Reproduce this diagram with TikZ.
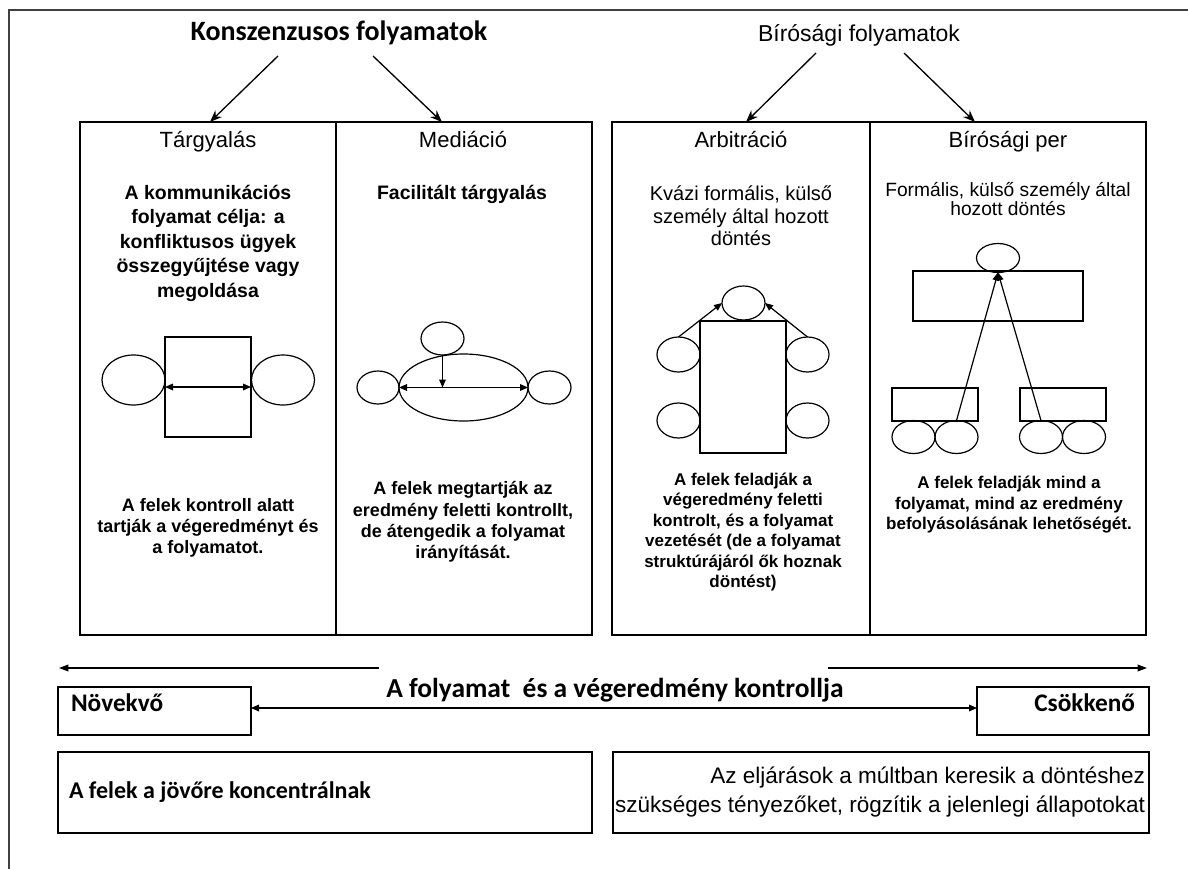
\documentclass[tikz,border=0pt]{standalone}
\usepackage{fontspec}
\setmainfont{Liberation Sans}
\newfontfamily\calfont{Carlito}
\usetikzlibrary{arrows.meta,shapes.geometric}
\newcommand\fsz[2]{\fontsize{#1}{#2}\selectfont}

\begin{document}
\begin{tikzpicture}[x=0.75pt,y=-0.75pt,
  every node/.style={inner sep=0pt, outer sep=0pt},
  oval/.style={draw, ellipse, line width=0.9pt},
  box/.style={draw, rectangle, line width=0.9pt},
  arr/.style={line width=0.9pt, -{Triangle[length=6pt,width=5pt]}},
  darr/.style={line width=0.9pt, {Triangle[length=6pt,width=5pt]}-{Triangle[length=6pt,width=5pt]}},
  toparr/.style={line width=1pt, -{Stealth[length=9pt,width=7pt]}},
  longarr/.style={line width=1pt, -{Triangle[length=7pt,width=5pt]}},
  panel/.style={line width=1.1pt},
  bigtitle/.style={font=\calfont\bfseries\fsz{21pt}{25pt}},
  subtitle/.style={font=\fsz{17.25pt}{20pt}},
  head/.style={anchor=base, font=\fsz{16.5pt}{20pt}},
  bodybold/.style={align=center, font=\bfseries\fsz{14.6pt}{18.4pt}},
  bodyreg/.style={align=center, font=\fsz{15pt}{16.9pt}},
  lowtext/.style={align=center, font=\bfseries\fsz{13.5pt}{16pt}},
  lowsmall/.style={align=center, font=\bfseries\fsz{12.75pt}{15.4pt}},
  tagtext/.style={font=\calfont\bfseries\fsz{19pt}{22pt}},
  noteleft/.style={font=\calfont\bfseries\fsz{18pt}{22pt}},
]
% canvas and outer frame
\useasboundingbox (0,0) rectangle (1188,868);
\fill[white] (0,0) rectangle (1188,868);
\clip (0,0) rectangle (1188,868);
\draw[line width=1.3pt, black!75] (9,10) rectangle (1300,1000);

% group titles
\node[bigtitle] (konsz) at (339,33) {Konszenzusos folyamatok};
\node[subtitle] (birosagi) at (859,35) {Bírósági folyamatok};
\coordinate (k1s) at (278,56);  \coordinate (k1e) at (210,122);
\coordinate (k2s) at (373,56);  \coordinate (k2e) at (442,122);
\coordinate (b1s) at (816,53);  \coordinate (b1e) at (746,122);
\coordinate (b2s) at (904,53);  \coordinate (b2e) at (975,122);
\draw[toparr] (k1s) -- (k1e);
\draw[toparr] (k2s) -- (k2e);
\draw[toparr] (b1s) -- (b1e);
\draw[toparr] (b2s) -- (b2e);

% the four columns
\draw[panel] (80,122) rectangle (592,635);
\draw[panel] (336,122) -- (336,635);
\draw[panel] (612,122) rectangle (1146,635);
\draw[panel] (870,122) -- (870,635);

% column headings
\node[head] (h1) at (208,147) {Tárgyalás};
\node[head] (h2) at (463,147) {Mediáció};
\node[head] (h3) at (741,147) {Arbitráció};
\node[head] (h4) at (1008,147) {Bírósági per};

% descriptions under the headings
\node[bodybold] (d1) at (208,243) {A kommunikációs\\folyamat célja: a\\konfliktusos ügyek\\összegyűjtése vagy\\megoldása};
\node[bodybold] (d2) at (462,194) {Facilitált tárgyalás};
\node[bodyreg] (d3) at (741,216) {Kvázi formális, külső\\személy által hozott\\döntés};
\node[align=center, font=\fsz{14.4pt}{14pt}] (d4) at (1008,199) {Formális, külső személy által\\hozott döntés};

% negotiation: two parties across a table
\node[box, minimum width=64.5pt, minimum height=75pt] (trect) at (208,387) {};
\node[oval, minimum width=47.25pt, minimum height=37.5pt] (tl) at (133.5,380) {};
\node[oval, minimum width=47.25pt, minimum height=37.5pt] (tr) at (283,380) {};
\draw[darr] (trect.west) -- (trect.east);

% mediation: mediator above the table
\node[oval, minimum width=96.75pt, minimum height=50.25pt] (mbig) at (463.5,387.5) {};
\node[oval, minimum width=32.25pt, minimum height=24.75pt] (mtop) at (442.5,338.5) {};
\node[oval, minimum width=31.5pt, minimum height=24.75pt] (ml) at (378,387.5) {};
\node[oval, minimum width=32.25pt, minimum height=24.75pt] (mr) at (549.5,387.5) {};
\draw[darr] (mbig.west) -- (mbig.east);
\draw[arr] (mtop.south) -- (mtop.south |- mbig.center);

% arbitration: parties around a long table, arbitrator at the head
\node[box, minimum width=64.5pt, minimum height=99pt] (arect) at (743,387) {};
\node[oval, minimum width=32.25pt, minimum height=25.5pt] (atop) at (743.5,303) {};
\node[oval, minimum width=32.25pt, minimum height=26.25pt] (al1) at (678.5,354.5) {};
\node[oval, minimum width=32.25pt, minimum height=26.25pt] (al2) at (678.5,420.5) {};
\node[oval, minimum width=32.25pt, minimum height=26.25pt] (ar1) at (807.5,354.5) {};
\node[oval, minimum width=32.25pt, minimum height=26.25pt] (ar2) at (807.5,420.5) {};
\draw[arr] (al1.north) -- (atop.west);
\draw[arr] (ar1.north) -- (atop.east);

% court: judge's bench and the two sides
\node[oval, minimum width=32.25pt, minimum height=21.75pt] (btop) at (998,258) {};
\node[box, minimum width=127.5pt, minimum height=37.5pt] (bbench) at (998,296) {};
\node[box, minimum width=64.5pt, minimum height=24.75pt] (bl) at (935,404.5) {};
\node[box, minimum width=64.5pt, minimum height=24.75pt] (br) at (1063,404.5) {};
\node[oval, minimum width=32.25pt, minimum height=24.75pt] (be1) at (913.5,437) {};
\node[oval, minimum width=32.25pt, minimum height=24.75pt] (be2) at (956.5,437) {};
\node[oval, minimum width=32.25pt, minimum height=24.75pt] (be3) at (1041,437) {};
\node[oval, minimum width=32.25pt, minimum height=24.75pt] (be4) at (1084,437) {};
\draw[arr] (be2.north) -- (btop.south);
\draw[arr] (be3.north) -- (btop.south);

% what the parties keep or give up
\node[lowtext] (l1) at (208,528) {A felek kontroll alatt\\tartják a végeredményt és\\a folyamatot.};
\node[lowtext] (l2) at (463,522) {A felek megtartják az\\eredmény feletti kontrollt,\\de átengedik a folyamat\\irányítását.};
\node[lowsmall] (l3) at (743,532) {A felek feladják a\\végeredmény feletti\\kontrolt, és a folyamat\\vezetését (de a folyamat\\struktúrájáról ők hoznak\\döntést)};
\node[lowsmall] (l4) at (1009,505) {A felek feladják mind a\\folyamat, mind az eredmény\\befolyásolásának lehetőségét.};

% control scale
\coordinate (la) at (379,668); \coordinate (lb) at (59,668);
\coordinate (ra) at (828,668); \coordinate (rb) at (1147,668);
\draw[longarr] (la) -- (lb);
\draw[longarr] (ra) -- (rb);
\node[bigtitle, font=\calfont\bfseries\fsz{20.6pt}{24pt}] (ctrl) at (615,690) {A folyamat\ \ és a végeredmény kontrollja};

\node[box, minimum width=144.75pt, minimum height=36pt] (nov) at (154.5,711) {};
\node[tagtext, anchor=west] (novt) at (71,703) {Növekvő};
\node[box, minimum width=129pt, minimum height=36pt] (csok) at (1063,711) {};
\node[tagtext, anchor=east] (csokt) at (1135,703) {Csökkenő};
\draw[darr] ([yshift=2.25pt]nov.east) -- ([yshift=2.25pt]csok.west);

% orientation of the two families
\node[box, minimum width=400.5pt, minimum height=60.75pt] (fut) at (325,792.5) {};
\node[noteleft, anchor=west] (futt) at (69,792) {A felek a jövőre koncentrálnak};
\node[box, minimum width=402pt, minimum height=60.75pt] (past) at (881,792.5) {};
\node[anchor=east, align=right, font=\fsz{16.9pt}{21.75pt}] (pastt) at (1145,792.5) {Az eljárások a múltban keresik a döntéshez\\szükséges tényezőket, rögzítik a jelenlegi állapotokat};
\end{tikzpicture}
\end{document}
